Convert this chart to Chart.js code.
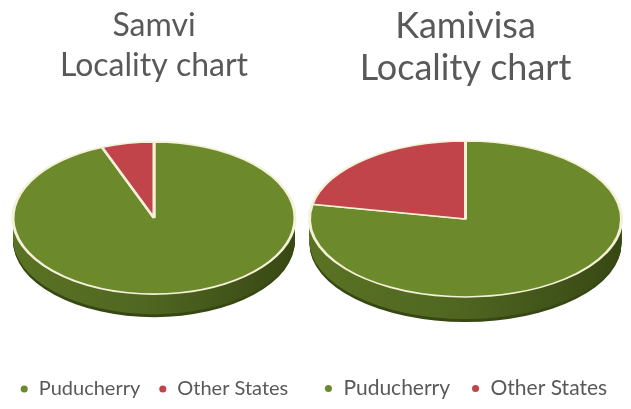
<!DOCTYPE html>
<html>
<head>
<meta charset="utf-8">
<script src="https://cdn.jsdelivr.net/npm/chart.js@4.4.1/dist/chart.umd.min.js"></script>
<style>
  html, body { margin: 0; padding: 0; background: #fff; }
  #wrap { position: relative; width: 631px; height: 409px; overflow: hidden; }
  #left { position: absolute; left: 0; top: 0; }
  #right { position: absolute; left: 300px; top: 0; }
</style>
</head>
<body>
<div id="wrap">
  <canvas id="left" width="312" height="409"></canvas>
  <canvas id="right" width="331" height="409"></canvas>
</div>
<script>
const categories = ['Puducherry', 'Other States'];
const samviValues = [94, 6];
const kamivisaValues = [78, 22];
const samviTitle = ['Samvi', 'Locality chart'];
const kamivisaTitle = ['Kamivisa', 'Locality chart'];

const topColors = ['#6c8a2b', '#c1444b'];
const sideDark = [['#5a7223', '#506721', '#384814'], ['#8a2e33', '#7c282d', '#5e1e22']];

// squash the pie into an ellipse and give it a side wall
const tiltPlugin = {
  id: 'tilt',
  beforeDatasetsDraw(chart, args, opts) {
    const ctx = chart.ctx;
    const meta = chart.getDatasetMeta(0);
    const cx = meta.data[0].x;
    const cy = meta.data[0].y + opts.shiftY;
    const r = meta.data[0].outerRadius;

    for (let d = opts.depth; d > 0; d--) {
      ctx.save();
      ctx.translate(cx, cy + d);
      ctx.scale(1, opts.squash);
      meta.data.forEach((arc, i) => {
        let g = ctx.createLinearGradient(-r, 0, r, 0);
        g.addColorStop(0, sideDark[i][0]);
        g.addColorStop(0.45, sideDark[i][1]);
        g.addColorStop(1, sideDark[i][2]);
        ctx.beginPath();
        ctx.moveTo(0, 0);
        ctx.arc(0, 0, arc.outerRadius, arc.startAngle, arc.endAngle);
        ctx.closePath();
        ctx.fillStyle = d > opts.depth - 3 ? sideDark[i][2] : g;
        ctx.fill();
      });
      ctx.restore();
    }

    ctx.save();
    ctx.translate(cx, cy);
    ctx.scale(1, opts.squash);
    ctx.translate(-cx, -meta.data[0].y);
  },
  afterDatasetsDraw(chart) {
    chart.ctx.restore();
  }
};

// solid legend dots, without the cream slice border
function solidLabels(chart) {
  const items = Chart.overrides.pie.plugins.legend.labels.generateLabels(chart);
  items.forEach(it => { it.strokeStyle = it.fillStyle; it.lineWidth = 0; });
  return items;
}

function makePie(id, values, title, radius, squash, depth, shiftY, titleSize, titleLine, legendSize, legendGap, pad) {
  return new Chart(document.getElementById(id), {
    type: 'pie',
    data: {
      labels: categories,
      datasets: [{
        data: values,
        backgroundColor: topColors,
        borderColor: '#f4f1d8',
        borderWidth: 3,
        radius: radius
      }]
    },
    options: {
      responsive: false,
      animation: false,
      events: [],
      layout: { padding: pad },
      plugins: {
        tilt: { squash: squash, depth: depth, shiftY: shiftY },
        title: {
          display: true,
          text: title,
          color: '#595959',
          font: { family: 'Lato', size: titleSize, weight: 'normal', lineHeight: titleLine },
          padding: { top: 6, bottom: 10 }
        },
        legend: {
          position: 'bottom',
          labels: {
            usePointStyle: true,
            pointStyle: 'circle',
            boxWidth: 9,
            boxHeight: 5,
            padding: legendGap,
            color: '#595959',
            font: { family: 'Lato', size: legendSize },
            generateLabels: solidLabels
          }
        },
        tooltip: { enabled: false }
      }
    },
    plugins: [tiltPlugin]
  });
}

makePie('left', samviValues, samviTitle, 141, 0.54, 23, -10.5, 32, 1.25, 20, 18, { right: 4 });
makePie('right', kamivisaValues, kamivisaTitle, 156, 0.5, 25, -9, 36, 1.15, 21, 21, {});
</script>
</body>
</html>
